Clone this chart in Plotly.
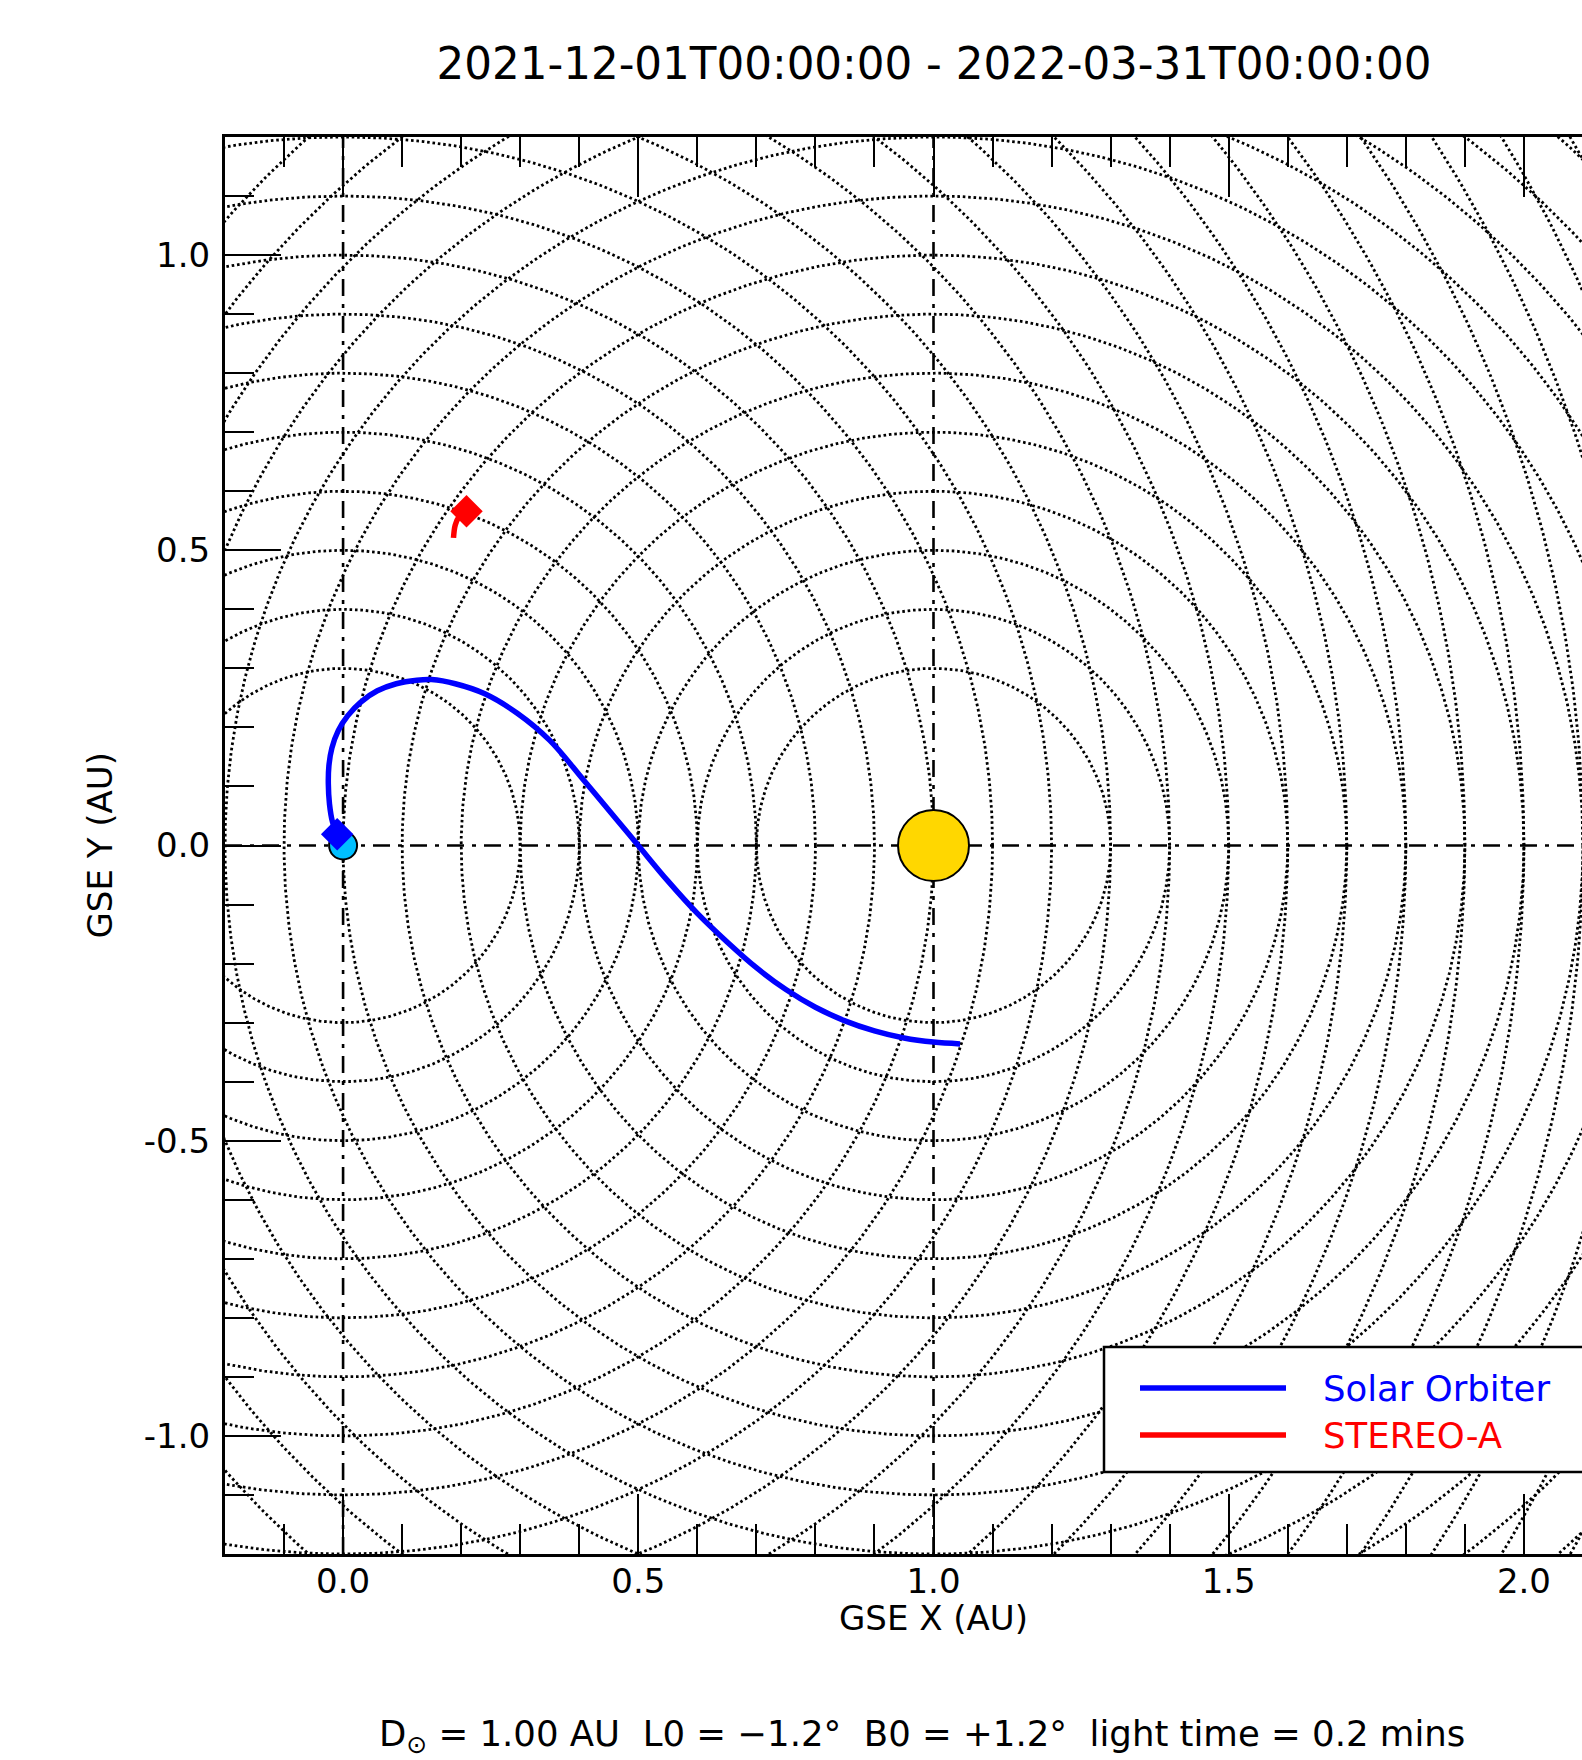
import numpy as np
import plotly.graph_objects as go

# ---------------- data ----------------
TITLE = "2021-12-01T00:00:00 - 2022-03-31T00:00:00"
FOOTER = ("D<sub>\u2299</sub> = 1.00 AU\u00a0 L0 = \u22121.2\u00b0\u00a0 B0 = +1.2\u00b0\u00a0 "
          "light time = 0.2 mins")
X_TITLE = "GSE X (AU)"
Y_TITLE = "GSE Y (AU)"

X_TICKS = [0.0, 0.5, 1.0, 1.5, 2.0]
X_TICK_LABELS = ["0.0", "0.5", "1.0", "1.5", "2.0"]
Y_TICKS = [-1.0, -0.5, 0.0, 0.5, 1.0]
Y_TICK_LABELS = ["-1.0", "-0.5", "0.0", "0.5", "1.0"]

EARTH_POS = [0.0, 0.0]
SUN_POS = [1.0, 0.0]

EARTH_RING_RADII = [0.3, 0.4, 0.5, 0.6, 0.7, 0.8, 0.9, 1.0, 1.1, 1.2, 1.3, 1.4, 1.5,
                    1.6, 1.7, 1.8, 1.9, 2.0, 2.1, 2.2, 2.3, 2.4, 2.5, 2.6]
SUN_RING_RADII = [0.3, 0.4, 0.5, 0.6, 0.7, 0.8, 0.9, 1.0, 1.1, 1.2, 1.3, 1.4, 1.5,
                  1.6, 1.7, 1.8]

SERIES_NAMES = ["Solar Orbiter", "STEREO-A"]
SERIES_COLORS = ["#0000FF", "#FF0000"]

SOLO_X = [-0.010, -0.018, -0.023, -0.025, -0.024, -0.019, -0.008, 0.008, 0.030, 0.058,
          0.090, 0.125, 0.150, 0.190, 0.240, 0.295, 0.350, 0.408, 0.465, 0.500,
          0.550, 0.600, 0.650, 0.700, 0.750, 0.800, 0.850, 0.900, 0.950, 1.000, 1.045]
SOLO_Y = [0.019, 0.040, 0.070, 0.105, 0.135, 0.165, 0.195, 0.220, 0.243, 0.262,
          0.274, 0.280, 0.281, 0.274, 0.257, 0.224, 0.178, 0.110, 0.042, 0.000,
          -0.060, -0.115, -0.163, -0.207, -0.244, -0.274, -0.297, -0.314, -0.326, -0.333, -0.336]

STA_X = [0.209, 0.196, 0.190, 0.187]
STA_Y = [0.566, 0.556, 0.543, 0.521]

X_MIN, Y_MIN, Y_MAX = -0.2, -1.2, 1.2

# ---------------- layout geometry ----------------
W, H = 1582, 1760
ML, MR, MT, MB = 225, 0, 137, 206
plot_w = W - ML - MR
plot_h = H - MT - MB
au_per_px = (Y_MAX - Y_MIN) / plot_h
X_MAX = X_MIN + plot_w * au_per_px


def px_x(px):
    return (px - ML) / plot_w


def px_y(py):
    return (H - MB - py) / plot_h


FONT = "DejaVu Sans"
fig = go.Figure()

# dotted rings around Earth and Sun
theta = np.linspace(0, 2 * np.pi, 721)
for center, radii in ((EARTH_POS, EARTH_RING_RADII), (SUN_POS, SUN_RING_RADII)):
    xs, ys = [], []
    for r in radii:
        xs += list(center[0] + r * np.cos(theta)) + [None]
        ys += list(center[1] + r * np.sin(theta)) + [None]
    fig.add_trace(go.Scatter(x=xs, y=ys, mode="lines", hoverinfo="skip", showlegend=False,
                             line=dict(color="black", width=2.8, dash="2.6px,2.8px")))

# dash-dot reference lines through Earth and Sun
dashdot = dict(color="black", width=2.6, dash="17px,8px,4px,8px")
fig.add_trace(go.Scatter(x=[X_MIN, 2.3], y=[EARTH_POS[1], EARTH_POS[1]], mode="lines",
                         line=dashdot, hoverinfo="skip", showlegend=False))
for pos in (EARTH_POS, SUN_POS):
    fig.add_trace(go.Scatter(x=[pos[0], pos[0]], y=[Y_MIN, Y_MAX], mode="lines",
                             line=dashdot, hoverinfo="skip", showlegend=False))

# Sun and Earth
fig.add_trace(go.Scatter(x=[SUN_POS[0]], y=[SUN_POS[1]], mode="markers", name="Sun",
                         showlegend=False,
                         marker=dict(size=71, color="#FFD700", line=dict(color="black", width=2))))
fig.add_trace(go.Scatter(x=[EARTH_POS[0]], y=[EARTH_POS[1]], mode="markers", name="Earth",
                         showlegend=False,
                         marker=dict(size=28, color="#00BFFF", line=dict(color="black", width=2))))

# spacecraft tracks
for name, color, xs, ys in ((SERIES_NAMES[0], SERIES_COLORS[0], SOLO_X, SOLO_Y),
                            (SERIES_NAMES[1], SERIES_COLORS[1], STA_X, STA_Y)):
    fig.add_trace(go.Scatter(x=xs, y=ys, mode="lines", name=name, showlegend=False,
                             line=dict(color=color, width=5.5, shape="spline")))
for name, color, xs, ys in ((SERIES_NAMES[0], SERIES_COLORS[0], SOLO_X, SOLO_Y),
                            (SERIES_NAMES[1], SERIES_COLORS[1], STA_X, STA_Y)):
    fig.add_trace(go.Scatter(x=[xs[0]], y=[ys[0]], mode="markers", name=name, showlegend=False,
                             marker=dict(symbol="diamond", size=25, color=color)))

# ---------------- legend (drawn) ----------------
shapes = [dict(type="rect", xref="paper", yref="paper", x0=px_x(1104), x1=px_x(1600),
               y0=px_y(1472), y1=px_y(1347), fillcolor="white",
               line=dict(color="black", width=2.5), layer="above")]
annotations = []
for i, (name, color) in enumerate(zip(SERIES_NAMES, SERIES_COLORS)):
    yy = px_y(1388 + i * 47)
    shapes.append(dict(type="line", xref="paper", yref="paper", x0=px_x(1140), x1=px_x(1286),
                       y0=yy, y1=yy, line=dict(color=color, width=5.5), layer="above"))
    annotations.append(dict(xref="paper", yref="paper", x=px_x(1321), y=yy, text=name,
                            xanchor="left", yanchor="middle", showarrow=False,
                            font=dict(family=FONT, size=35.5, color=color)))

annotations += [
    dict(xref="x", yref="paper", x=1.0, y=px_y(1618), text=X_TITLE, showarrow=False,
         xanchor="center", yanchor="middle", font=dict(family=FONT, size=34, color="black")),
    dict(xref="paper", yref="y", x=px_x(99), y=0.0, text=Y_TITLE, showarrow=False,
         textangle=-90, xanchor="center", yanchor="middle",
         font=dict(family=FONT, size=34, color="black")),
    dict(xref="paper", yref="paper", x=px_x(922), y=px_y(1736), text=FOOTER, showarrow=False,
         xanchor="center", yanchor="middle", font=dict(family=FONT, size=35.5, color="black")),
]

axis_common = dict(showgrid=False, zeroline=False, showline=True, linecolor="black",
                   linewidth=3, ticks="inside", tickcolor="black", tickwidth=2,
                   tickfont=dict(family=FONT, size=34, color="black"), tickmode="array")

fig.update_layout(
    width=W, height=H, margin=dict(l=ML, r=MR, t=MT, b=MB, autoexpand=False),
    paper_bgcolor="white", plot_bgcolor="white",
    title=dict(text=TITLE, x=px_x(934), xref="paper", xanchor="center",
               y=1 - 64 / H, yref="container", yanchor="middle",
               font=dict(family=FONT, size=43.6, color="black")),
    xaxis=dict(range=[X_MIN, X_MAX], tickvals=X_TICKS, ticktext=X_TICK_LABELS, ticklen=60,
               mirror="ticks", ticklabelstandoff=-5,
               minor=dict(tickmode="linear", tick0=0, dtick=0.1, ticklen=30, tickwidth=2,
                          tickcolor="black", ticks="inside"),
               **axis_common),
    yaxis=dict(range=[Y_MIN, Y_MAX], tickvals=Y_TICKS, ticktext=Y_TICK_LABELS, ticklen=56,
               mirror=False, ticklabelstandoff=5,
               minor=dict(tickmode="linear", tick0=0, dtick=0.1, ticklen=29, tickwidth=2,
                          tickcolor="black", ticks="inside"),
               **axis_common),
    shapes=shapes, annotations=annotations, showlegend=False,
)

fig.write_html("out.html", config={"displayModeBar": False},
               post_script="document.body.style.margin='0';document.body.style.overflow='hidden';")
